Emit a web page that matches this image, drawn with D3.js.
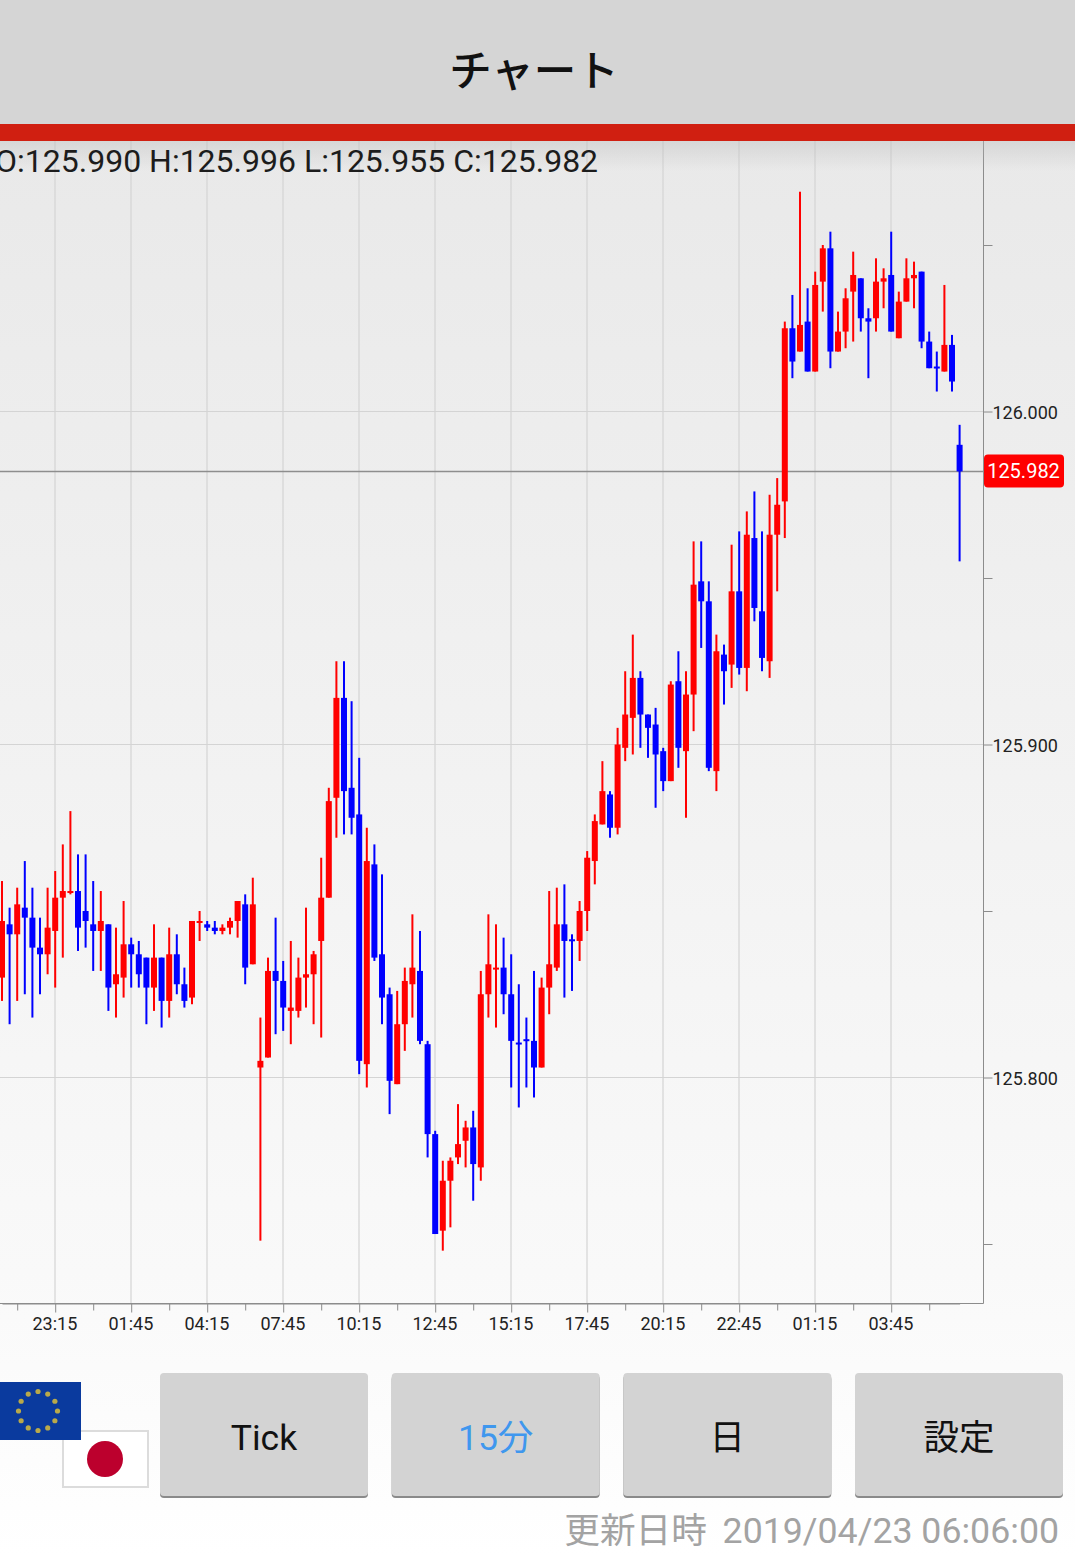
<!DOCTYPE html>
<html>
<head>
    <meta charset="UTF-8">
    <title>チャート</title>
    <script src="https://cdnjs.cloudflare.com/ajax/libs/d3/7.8.5/d3.min.js"></script>
    <style>
        html, body { margin: 0; padding: 0; background: #fff; overflow: hidden; }
        svg { display: block; font-family: Roboto, "Noto Sans CJK JP", sans-serif; }
        .grid line { stroke: #d4d4d4; stroke-width: 1.2px; }
        .axis path, .axis line { stroke: #8c8c8c; stroke-width: 1px; fill: none; }
        .axis text { font-family: Roboto, sans-serif; font-size: 18px; fill: #222; }
    </style>
</head>
<body>
<div id="vis"></div>
<script>
    var opens = [
        125.830,125.846,125.843,125.851,125.848,125.839,125.837,125.844,125.854,125.856,
        125.856,125.850,125.846,125.844,125.846,125.828,125.830,125.840,125.837,125.836,
        125.827,125.836,125.823,125.837,125.828,125.824,125.847,125.846,125.845,125.844,
        125.845,125.847,125.852,125.834,125.803,125.806,125.832,125.829,125.820,125.820,
        125.830,125.831,125.841,125.854,125.884,125.914,125.887,125.879,125.804,125.864,
        125.837,125.825,125.798,125.816,125.828,125.832,125.810,125.783,125.754,125.769,
        125.776,125.781,125.785,125.773,125.825,125.833,125.833,125.825,125.8105,125.8115,
        125.811,125.803,125.827,125.833,125.846,125.8415,125.841,125.850,125.865,125.876,
        125.885,125.875,125.899,125.908,125.920,125.909,125.906,125.898,125.889,125.919,
        125.898,125.915,125.949,125.943,125.892,125.927,125.924,125.946,125.923,125.962,
        125.940,125.925,125.963,125.973,126.025,126.018,126.027,126.012,126.039,126.049,
        126.018,126.024,126.036,126.040,126.028,126.028,126.039,126.041,126.022,126.033,
        126.040,126.042,126.021,126.0135,126.012,126.020,125.990
    ];
    var highs = [
        125.859,125.851,125.857,125.865,125.857,125.848,125.857,125.862,125.870,125.880,
        125.867,125.867,125.859,125.856,125.846,125.845,125.853,125.842,125.841,125.836,
        125.846,125.836,125.845,125.843,125.833,125.847,125.850,125.847,125.847,125.846,
        125.848,125.853,125.855,125.860,125.818,125.836,125.848,125.835,125.841,125.836,
        125.851,125.838,125.866,125.887,125.925,125.925,125.913,125.896,125.875,125.870,
        125.861,125.827,125.826,125.833,125.849,125.844,125.811,125.784,125.775,125.776,
        125.792,125.787,125.790,125.832,125.849,125.846,125.842,125.837,125.828,125.818,
        125.832,125.830,125.856,125.857,125.858,125.843,125.853,125.868,125.879,125.895,
        125.886,125.905,125.922,125.933,125.922,125.909,125.911,125.899,125.919,125.928,
        125.922,125.961,125.961,125.949,125.933,125.930,125.960,125.964,125.970,125.976,
        125.964,125.975,125.980,126.027,126.035,126.066,126.037,126.042,126.050,126.054,
        126.030,126.037,126.048,126.040,126.031,126.046,126.043,126.054,126.036,126.046,
        126.045,126.042,126.024,126.018,126.038,126.023,125.996
    ];
    var lows = [
        125.823,125.816,125.823,125.825,125.818,125.825,125.831,125.827,125.836,125.855,
        125.838,125.839,125.832,125.832,125.820,125.818,125.824,125.827,125.827,125.816,
        125.820,125.815,125.818,125.825,125.821,125.822,125.841,125.844,125.843,125.843,
        125.843,125.842,125.828,125.834,125.751,125.806,125.813,125.814,125.810,125.818,
        125.821,125.816,125.812,125.854,125.872,125.873,125.873,125.801,125.797,125.835,
        125.816,125.789,125.798,125.808,125.818,125.810,125.776,125.753,125.748,125.755,
        125.774,125.773,125.763,125.769,125.818,125.815,125.819,125.797,125.791,125.797,
        125.794,125.803,125.819,125.832,125.824,125.826,125.835,125.844,125.858,125.876,
        125.872,125.873,125.895,125.897,125.899,125.896,125.881,125.886,125.889,125.893,
        125.878,125.904,125.929,125.892,125.886,125.912,125.917,125.921,125.916,125.937,
        125.922,125.920,125.946,125.962,126.010,126.018,126.012,126.012,126.030,126.013,
        126.018,126.019,126.021,126.024,126.010,126.024,126.031,126.024,126.022,126.033,
        126.031,126.019,126.013,126.006,126.012,126.006,125.955
    ];
    var closes = [
        125.847,125.843,125.852,125.848,125.839,125.837,125.845,125.854,125.856,125.856,
        125.845,125.847,125.844,125.847,125.827,125.831,125.840,125.837,125.831,125.827,
        125.836,125.823,125.837,125.828,125.823,125.847,125.847,125.845,125.844,125.845,
        125.847,125.853,125.833,125.852,125.805,125.832,125.829,125.821,125.821,125.830,
        125.831,125.837,125.854,125.883,125.914,125.886,125.878,125.805,125.865,125.836,
        125.824,125.799,125.816,125.829,125.833,125.811,125.783,125.753,125.769,125.775,
        125.780,125.785,125.774,125.825,125.834,125.833,125.825,125.811,125.810,125.811,
        125.803,125.827,125.834,125.846,125.841,125.841,125.850,125.866,125.877,125.886,
        125.875,125.900,125.909,125.920,125.909,125.905,125.897,125.889,125.918,125.899,
        125.915,125.948,125.943,125.893,125.928,125.922,125.946,125.923,125.963,125.941,
        125.926,125.963,125.972,126.025,126.015,126.026,126.012,126.038,126.049,126.018,
        126.024,126.034,126.041,126.028,126.027,126.039,126.040,126.024,126.033,126.040,
        126.041,126.021,126.013,126.013,126.020,126.009,125.982
    ];

    // bar index of each labelled time, every 10 bars
    var timeIndex = [7, 17, 27, 37, 47, 57, 67, 77, 87, 97, 107, 117];
    var timeLabels = ["23:15", "01:45", "04:15", "07:45", "10:15", "12:45", "15:15", "17:45", "20:15", "22:45", "01:15", "03:45"];
    var minorIndex = [2, 12, 22, 32, 42, 52, 62, 72, 82, 92, 102, 112, 122];
    var priceLabels = [126.000, 125.900, 125.800];
    var priceMinor = [126.050, 125.950, 125.850, 125.750];
    var lastPrice = 125.982;
    var ohlcText = "O:125.990 H:125.996 L:125.955 C:125.982";
    var buttonLabels = ["Tick", "15分", "日", "設定"];

    var width = 1075, height = 1555;
    var plotRight = 983.5, plotTop = 141, plotBottom = 1303.5;

    var x = d3.scaleLinear().domain([0, 126]).range([2, 959.6]);
    var y = d3.scaleLinear().domain([125.8, 126.0]).range([1077.5, 411.5]);

    var svg = d3.select("#vis").append("svg")
            .attr("width", width)
            .attr("height", height);

    var defs = svg.append("defs");
    var grad = defs.append("linearGradient")
            .attr("id", "bg").attr("x1", 0).attr("y1", 0).attr("x2", 0).attr("y2", 1);
    grad.append("stop").attr("offset", "0%").attr("stop-color", "#e9e9e9");
    grad.append("stop").attr("offset", "80%").attr("stop-color", "#f9f9f9");
    grad.append("stop").attr("offset", "100%").attr("stop-color", "#ffffff");
    var shadow = defs.append("linearGradient")
            .attr("id", "shadow").attr("x1", 0).attr("y1", 0).attr("x2", 0).attr("y2", 1);
    shadow.append("stop").attr("offset", "0%").attr("stop-color", "#bbb").attr("stop-opacity", 0.4);
    shadow.append("stop").attr("offset", "100%").attr("stop-color", "#bbb").attr("stop-opacity", 0);

    svg.append("rect").attr("x", 0).attr("y", 141).attr("width", width).attr("height", height - 141)
            .attr("fill", "url(#bg)");

    // grid
    var grid = svg.append("g").attr("class", "grid");
    grid.selectAll(".v").data(timeIndex).enter().append("line")
            .attr("x1", function(d) { return Math.round(x(d)); })
            .attr("x2", function(d) { return Math.round(x(d)); })
            .attr("y1", plotTop).attr("y2", plotBottom);
    grid.selectAll(".h").data(priceLabels).enter().append("line")
            .attr("x1", 0).attr("x2", plotRight)
            .attr("y1", function(d) { return y(d); })
            .attr("y2", function(d) { return y(d); });

    // last price line
    svg.append("line")
            .attr("x1", 0).attr("x2", plotRight)
            .attr("y1", y(lastPrice)).attr("y2", y(lastPrice))
            .attr("stroke", "#8e8e8e").attr("stroke-width", 1.5);

    // candles
    var candles = svg.append("g").selectAll("g")
            .data(d3.range(opens.length))
            .enter().append("g")
            .attr("fill", function(i) { return closes[i] >= opens[i] ? "#ff0000" : "#0000ff"; });
    candles.append("rect")
            .attr("x", function(i) { return x(i) - 1; })
            .attr("width", 2)
            .attr("y", function(i) { return y(highs[i]); })
            .attr("height", function(i) { return y(lows[i]) - y(highs[i]); });
    candles.append("rect")
            .attr("x", function(i) { return x(i) - 3; })
            .attr("width", 6)
            .attr("y", function(i) { return y(Math.max(opens[i], closes[i])); })
            .attr("height", function(i) { return Math.max(2, Math.abs(y(opens[i]) - y(closes[i]))); });

    // axes
    var xAxis = d3.axisBottom(x)
            .tickValues(timeIndex)
            .tickSize(9)
            .tickSizeOuter(0)
            .tickPadding(5)
            .tickFormat(function(d, i) { return timeLabels[i]; });
    var xAxisG = svg.append("g").attr("class", "axis")
            .attr("transform", "translate(0," + plotBottom + ")")
            .call(xAxis);
    xAxisG.selectAll("text").attr("dx", -0.8);
    var xMinor = d3.axisBottom(x).tickValues(minorIndex).tickSize(7).tickSizeOuter(0).tickFormat("");
    svg.append("g").attr("class", "axis")
            .attr("transform", "translate(0," + plotBottom + ")")
            .call(xMinor)
            .select(".domain").remove();

    svg.append("line")
            .attr("x1", 0).attr("x2", plotRight)
            .attr("y1", plotBottom).attr("y2", plotBottom)
            .attr("stroke", "#8c8c8c");

    var yAxis = d3.axisRight(y)
            .tickValues(priceLabels)
            .tickSize(9)
            .tickSizeOuter(0)
            .tickPadding(0)
            .tickFormat(d3.format(".3f"));
    var yAxisG = svg.append("g").attr("class", "axis")
            .attr("transform", "translate(" + plotRight + ",0)")
            .call(yAxis);
    yAxisG.select(".domain").remove();
    yAxisG.selectAll("text").attr("dy", "0.4em");
    var yMinor = d3.axisRight(y).tickValues(priceMinor).tickSize(9).tickSizeOuter(0).tickFormat("");
    svg.append("g").attr("class", "axis")
            .attr("transform", "translate(" + plotRight + ",0)")
            .call(yMinor)
            .select(".domain").remove();
    svg.append("line")
            .attr("x1", plotRight).attr("x2", plotRight)
            .attr("y1", plotTop).attr("y2", plotBottom)
            .attr("stroke", "#8c8c8c");

    // price tag
    svg.append("rect")
            .attr("x", 984).attr("y", y(lastPrice) - 17)
            .attr("width", 80).attr("height", 33).attr("rx", 4)
            .attr("fill", "#ff0000");
    svg.append("text")
            .attr("x", 1023.5).attr("y", y(lastPrice) + 7)
            .attr("text-anchor", "middle")
            .attr("font-size", 20).attr("fill", "#fff")
            .text(d3.format(".3f")(lastPrice));

    // header
    svg.append("rect").attr("x", 0).attr("y", 0).attr("width", width).attr("height", 124).attr("fill", "#d5d5d5");
    svg.append("rect").attr("x", 0).attr("y", 124).attr("width", width).attr("height", 17).attr("fill", "#d01f11");
    svg.append("rect").attr("x", 0).attr("y", 141).attr("width", width).attr("height", 30).attr("fill", "url(#shadow)");
    svg.append("text")
            .attr("x", 534).attr("y", 86)
            .attr("text-anchor", "middle")
            .attr("font-family", "'Noto Sans CJK JP'")
            .attr("font-weight", 500)
            .attr("font-size", 42.5).attr("fill", "#111")
            .text("チャート");
    svg.append("text")
            .attr("x", -5).attr("y", 171.5)
            .attr("font-size", 32).attr("fill", "#1c1c1c")
            .text(ohlcText);

    // flags
    svg.append("rect").attr("x", 63).attr("y", 1431).attr("width", 85).attr("height", 56)
            .attr("fill", "#fff").attr("stroke", "#dcdcdc").attr("stroke-width", 2);
    svg.append("circle").attr("cx", 105).attr("cy", 1459).attr("r", 18).attr("fill", "#bc002d");
    svg.append("rect").attr("x", 0).attr("y", 1382).attr("width", 81).attr("height", 58).attr("fill", "#0a3a9e");
    svg.append("g").selectAll("circle").data(d3.range(12)).enter().append("circle")
            .attr("cx", function(d) { return 38 + 19.5 * Math.sin(d * Math.PI / 6); })
            .attr("cy", function(d) { return 1411 - 19.5 * Math.cos(d * Math.PI / 6); })
            .attr("r", 2.6)
            .attr("fill", "#b9a94a");

    // buttons
    var buttonX = d3.scalePoint().domain(buttonLabels).range([160, 855]);
    var buttons = svg.append("g").selectAll("g").data(buttonLabels).enter().append("g")
            .attr("transform", function(d) { return "translate(" + buttonX(d) + ",1373)"; });
    buttons.append("rect").attr("y", 2).attr("width", 208).attr("height", 123).attr("rx", 4).attr("fill", "#8a8a8a");
    buttons.append("rect").attr("width", 208).attr("height", 123).attr("rx", 4).attr("fill", "#d3d3d3");
    buttons.append("text")
            .attr("x", 104).attr("y", 76.5)
            .attr("text-anchor", "middle")
            .attr("font-family", "Roboto, 'Noto Sans CJK JP'")
            .attr("font-size", 35.5)
            .attr("fill", function(d) { return d === "15分" ? "#3f97ee" : "#111"; })
            .text(function(d) { return d; });

    svg.append("text")
            .attr("x", 1059).attr("y", 1543)
            .attr("text-anchor", "end")
            .attr("font-family", "Roboto, 'Noto Sans CJK JP'")
            .attr("font-size", 35.7).attr("fill", "#a3a3a3")
            .text("2019/04/23 06:06:00");
    svg.append("text")
            .attr("x", 707).attr("y", 1543)
            .attr("text-anchor", "end")
            .attr("font-family", "'Noto Sans CJK JP'")
            .attr("font-size", 35.7).attr("fill", "#a3a3a3")
            .text("更新日時");
</script>
</body>
</html>
